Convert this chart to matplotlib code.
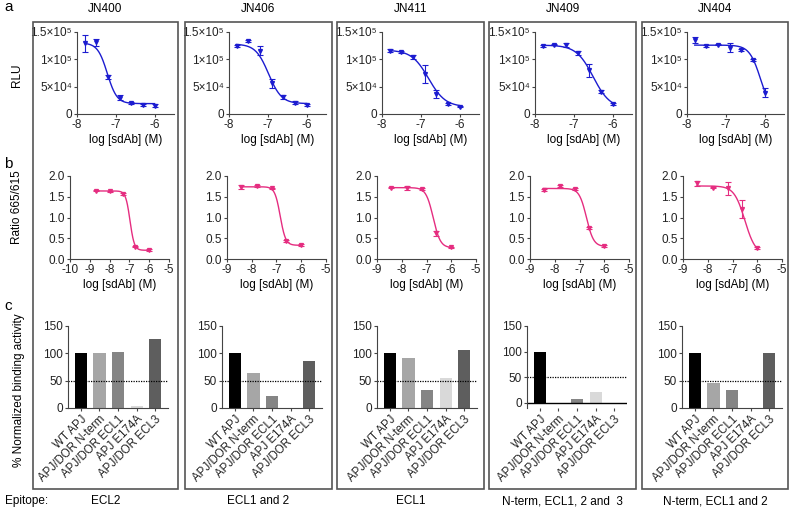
import numpy as np
import matplotlib
matplotlib.use("Agg")
import matplotlib.pyplot as plt
from matplotlib.patches import Rectangle

plt.rcParams['font.family'] = ['Liberation Sans', 'DejaVu Sans']

# ---------------- data ----------------
clones = ["JN400", "JN406", "JN411", "JN409", "JN404"]
epitopes = ["ECL2", "ECL1 and 2", "ECL1", "N-term, ECL1, 2 and  3", "N-term, ECL1 and 2"]

# panel a: RLU
a_x = [-7.8, -7.5, -7.2, -6.9, -6.6, -6.3, -6.0]
a_y_JN400 = [129000, 131000, 68000, 30000, 20000, 16000, 15000]
a_e_JN400 = [15000, 6000, 4000, 4000, 2000, 2000, 3000]
a_y_JN406 = [124000, 133000, 116000, 56000, 31000, 21000, 16500]
a_e_JN406 = [2000, 2000, 8000, 8000, 3000, 3000, 2000]
a_y_JN411 = [116000, 113000, 104000, 73000, 36000, 18000, 13500]
a_e_JN411 = [2000, 2000, 4000, 16000, 7000, 1500, 1500]
a_y_JN409 = [124000, 127000, 126000, 112000, 80000, 41000, 18000]
a_e_JN409 = [2000, 1500, 3000, 4000, 12000, 3000, 1500]
a_y_JN404 = [135000, 124000, 127000, 121000, 117500, 99000, 39000]
a_e_JN404 = [6000, 2000, 1500, 8000, 1500, 1500, 8000]
# fitted curve parameters (top, bottom, logIC50, hill)
a_fit = [(130000, 19000, -7.22, 3.5), (128000, 19000, -6.98, 2.6),
         (117000, 13000, -6.80, 2.0), (126000, 10000, -6.50, 2.0),
         (126000, 0, -6.10, 3.0)]

# panel b: HTRF ratio
b_x_col1 = [-8.7, -8.0, -7.3, -6.7, -6.0]
b_x = [-8.45, -7.8, -7.2, -6.6, -6.0]
b_y = [[1.65, 1.63, 1.57, 0.30, 0.22],
       [1.73, 1.76, 1.70, 0.43, 0.34],
       [1.72, 1.72, 1.68, 0.62, 0.28],
       [1.66, 1.76, 1.68, 0.74, 0.32],
       [1.82, 1.72, 1.70, 1.20, 0.27]]
b_e = [[0.02, 0.02, 0.02, 0.02, 0.02],
       [0.05, 0.02, 0.02, 0.02, 0.02],
       [0.02, 0.05, 0.02, 0.06, 0.02],
       [0.02, 0.02, 0.02, 0.02, 0.02],
       [0.06, 0.02, 0.15, 0.22, 0.03]]
b_fit = [(1.64, 0.21, -6.97, 4.0), (1.74, 0.33, -6.85, 4.0),
         (1.72, 0.27, -6.73, 3.0), (1.70, 0.30, -6.72, 3.0),
         (1.76, 0.10, -6.50, 2.0)]

# panel c: normalized binding
c_cats = ["WT APJ", "APJ/DOR N-term", "APJ/DOR ECL1", "APJ E174A", "APJ/DOR ECL3"]
c_vals = [[100, 101, 102, 4, 126],
          [100, 64, 22, 0, 86],
          [100, 91, 33, 55, 106],
          [100, -2, 7, 21, -2],
          [100, 45, 33, 0, 101]]
c_colors = ["#000000", "#a6a6a6", "#858585", "#d9d9d9", "#5e5e5e"]

# ---------------- layout ----------------
W, H = 790, 512
fig = plt.figure(figsize=(W / 100, H / 100), dpi=100)


def pax(l, t, w, h):
    return fig.add_axes([l / W, 1 - (t + h) / H, w / W, h / H])


def hill(x, top, bot, lic, n):
    return bot + (top - bot) / (1 + 10 ** ((x - lic) * n))


SP = "#444444"
FS = 8.5


def style(ax):
    for s in ("top", "right"):
        ax.spines[s].set_visible(False)
    for s in ("left", "bottom"):
        ax.spines[s].set_color(SP)
        ax.spines[s].set_linewidth(0.8)
    ax.tick_params(direction="out", length=2.5, width=0.8, color=SP,
                   labelsize=FS, pad=1.2, labelcolor="#222222")


# column boxes
box_l = [33, 185, 337, 489, 642]
box_r = [178, 332, 484, 636, 788]
for l, r in zip(box_l, box_r):
    fig.patches.append(Rectangle((l / W, 1 - 489 / H), (r - l) / W, (489 - 22) / H,
                                 transform=fig.transFigure, fill=False,
                                 edgecolor="#555555", linewidth=1.2))

# titles and epitopes
for i in range(5):
    cx = (box_l[i] + box_r[i]) / 2
    fig.text(cx / W, 1 - 9 / H, clones[i], ha="center", va="center", fontsize=8.5)
    fig.text(cx / W, 1 - 501 / H, epitopes[i], ha="center", va="center", fontsize=8.5)
fig.text(5 / W, 1 - 501 / H, "Epitope:", ha="left", va="center", fontsize=8.5)
fig.text(4 / W, 1 - 7 / H, "a", ha="left", va="center", fontsize=11)
fig.text(4 / W, 1 - 164 / H, "b", ha="left", va="center", fontsize=11)
fig.text(4 / W, 1 - 306 / H, "c", ha="left", va="center", fontsize=11)
fig.text(17 / W, 1 - 75 / H, "RLU", rotation=90, ha="center", va="center", fontsize=8.5)
fig.text(17 / W, 1 - 207 / H, "Ratio 665/615", rotation=90, ha="center", va="center", fontsize=8.5)
fig.text(19 / W, 1 - 390 / H, "% Normalized binding activity", rotation=90,
         ha="center", va="center", fontsize=8.5)

BLUE = "#1c1cd0"
PINK = "#e52d80"

# panel a
a_ys = [a_y_JN400, a_y_JN406, a_y_JN411, a_y_JN409, a_y_JN404]
a_es = [a_e_JN400, a_e_JN406, a_e_JN411, a_e_JN409, a_e_JN404]
a_left = [77, 229, 382, 535, 687]
for i in range(5):
    ax = pax(a_left[i], 32, 97, 82)
    style(ax)
    xs = np.linspace(a_x[0], a_x[-1], 200)
    ax.plot(xs, hill(xs, *a_fit[i]), color=BLUE, lw=1.0)
    ax.errorbar(a_x, a_ys[i], yerr=a_es[i], fmt="v", color=BLUE, ms=2.8,
                elinewidth=0.8, capsize=2, capthick=0.8)
    ax.set_xlim(-8, -5.5)
    ax.set_ylim(0, 150000)
    ax.set_xticks([-8, -7, -6])
    ax.set_xticklabels(["-8", "-7", "-6"])
    ax.set_yticks([0, 50000, 100000, 150000])
    ax.set_yticklabels(["0", "5×10⁴", "1×10⁵", "1.5×10⁵"])
    ax.set_xlabel("log [sdAb] (M)", fontsize=8.5, labelpad=2)

# panel b
b_left = [70, 227, 377, 530, 683]
for i in range(5):
    ax = pax(b_left[i], 176, 99, 83)
    style(ax)
    bx = b_x_col1 if i == 0 else b_x
    xs = np.linspace(bx[0], bx[-1], 200)
    ax.plot(xs, hill(xs, *b_fit[i]), color=PINK, lw=1.0)
    ax.errorbar(bx, b_y[i], yerr=b_e[i], fmt="v", color=PINK, ms=2.8,
                elinewidth=0.8, capsize=2, capthick=0.8)
    if i == 0:
        ax.set_xlim(-10, -5)
        ax.set_xticks([-10, -9, -8, -7, -6, -5])
    else:
        ax.set_xlim(-9, -5)
        ax.set_xticks([-9, -8, -7, -6, -5])
    ax.set_xticklabels([str(int(t)) for t in ax.get_xticks()])
    ax.set_ylim(0, 2.0)
    ax.set_yticks([0, 0.5, 1.0, 1.5, 2.0])
    ax.set_yticklabels(["0.0", "0.5", "1.0", "1.5", "2.0"])
    ax.set_xlabel("log [sdAb] (M)", fontsize=8.5, labelpad=2)

# panel c
c_left = [68, 222, 377, 527, 682]
for i in range(5):
    ax = pax(c_left[i], 326, 100, 82)
    style(ax)
    pos = np.arange(len(c_cats))
    ax.bar(pos, c_vals[i], width=0.65, color=c_colors, edgecolor="none")
    ax.axhline(50, color="black", lw=0.9, ls=(0, (1, 1)))
    ax.set_xlim(-0.7, 4.7)
    if i == 3:
        ax.set_ylim(-10, 150)
        ax.axhline(0, color="black", lw=1.0)
        ax.spines["bottom"].set_visible(False)
    else:
        ax.set_ylim(0, 150)
    ax.set_yticks([0, 50, 100, 150])
    ax.set_yticklabels(["0", "50", "100", "150"])
    ax.set_xticks(pos)
    ax.set_xticklabels(c_cats, rotation=45, ha="right", rotation_mode="anchor",
                       fontsize=8.3)

fig.savefig("out.png", dpi=100)
